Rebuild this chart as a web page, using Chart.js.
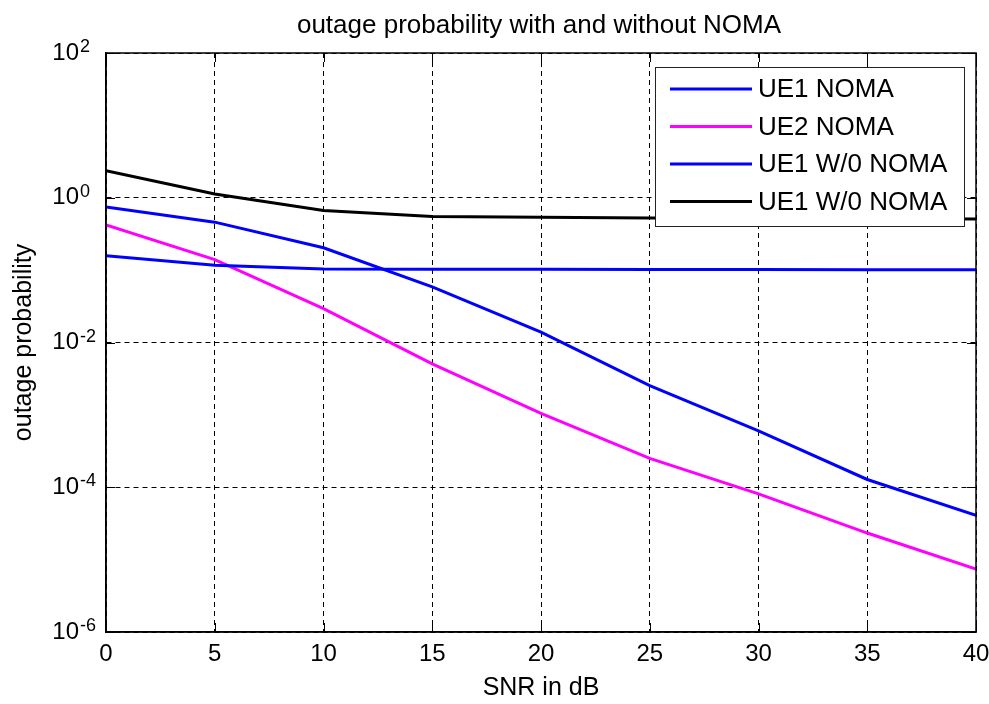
<!DOCTYPE html>
<html>
<head>
<meta charset="utf-8">
<title>outage probability with and without NOMA</title>
<script src="https://cdn.jsdelivr.net/npm/chart.js@4.4.1/dist/chart.umd.min.js"></script>
<style>
  html, body { margin: 0; padding: 0; background: #fff; }
  #wrap { width: 989px; height: 704px; }
</style>
</head>
<body>
<div id="wrap"><canvas id="outage-chart" width="989" height="704"></canvas></div>
<script>
// values, one point every 5 dB
const snrDb = [0, 5, 10, 15, 20, 25, 30, 35, 40];
const ue1Noma = [0.743, 0.46, 0.204, 0.0586, 0.0139, 0.00253, 0.0006, 0.000128, 0.000041];
const ue2Noma = [0.42, 0.14, 0.0294, 0.00506, 0.00105, 0.00025, 0.000081, 0.0000233, 0.0000074];
const ue1NoNomaBlue = [0.158, 0.117, 0.104, 0.103, 0.103, 0.102, 0.102, 0.101, 0.101];
const ue1NoNomaBlack = [2.37, 1.13, 0.667, 0.55, 0.536, 0.527, 0.52, 0.515, 0.51];

const seriesLabels = ['UE1 NOMA', 'UE2 NOMA', 'UE1 W/0 NOMA', 'UE1 W/0 NOMA'];
const seriesColors = ['#0000ff', '#ff00ff', '#0000ff', '#000000'];
const xTicks = [0, 5, 10, 15, 20, 25, 30, 35, 40];
const yTickExponents = [-6, -4, -2, 0, 2];

const chartTitle = 'outage probability with and without NOMA';
const FONT = "'Liberation Sans', Arial, sans-serif";

function toPoints(values) {
    return snrDb.map((x, i) => ({ x: x, y: values[i] }));
}

// matlab style frame, inner ticks, tick labels, title and legend
const matlabLook = {
    id: 'matlabLook',
    afterDraw(chart) {
        const ctx = chart.ctx;
        const area = chart.chartArea;
        const xs = chart.scales.x;
        const ys = chart.scales.y;
        ctx.save();

        // inner tick marks on all four sides
        ctx.strokeStyle = '#000';
        ctx.lineWidth = 1;
        ctx.setLineDash([]);
        ctx.beginPath();
        xTicks.forEach(v => {
            const px = Math.round(xs.getPixelForValue(v)) + 0.5;
            ctx.moveTo(px, area.bottom); ctx.lineTo(px, area.bottom - 9);
            ctx.moveTo(px, area.top); ctx.lineTo(px, area.top + 9);
        });
        yTickExponents.forEach(e => {
            const py = Math.round(ys.getPixelForValue(Math.pow(10, e))) + 0.5;
            ctx.moveTo(area.left, py); ctx.lineTo(area.left + 9, py);
            ctx.moveTo(area.right, py); ctx.lineTo(area.right - 9, py);
        });
        ctx.stroke();

        // box round the axes
        ctx.lineWidth = 1.5;
        ctx.strokeRect(area.left, area.top, area.right - area.left, area.bottom - area.top);

        // y tick labels: 10 with a raised exponent
        ctx.fillStyle = '#000';
        yTickExponents.forEach(e => {
            const py = ys.getPixelForValue(Math.pow(10, e));
            ctx.font = '24px ' + FONT;
            ctx.textAlign = 'right';
            ctx.textBaseline = 'middle';
            ctx.fillText('10', 79, py);
            ctx.font = '18px ' + FONT;
            ctx.textAlign = 'left';
            ctx.textBaseline = 'alphabetic';
            ctx.fillText(String(e), 80, py - 1);
        });

        // title
        ctx.font = '26px ' + FONT;
        ctx.textAlign = 'center';
        ctx.textBaseline = 'alphabetic';
        ctx.fillText(chartTitle, (area.left + area.right) / 2 - 2, 33);

        // legend box in the upper right corner
        const box = { x: 655, y: 67, w: 309, h: 159 };
        ctx.fillStyle = '#fff';
        ctx.fillRect(box.x, box.y, box.w, box.h);
        ctx.strokeStyle = '#222';
        ctx.lineWidth = 1;
        ctx.strokeRect(box.x + 0.5, box.y + 0.5, box.w, box.h);
        ctx.font = '26px ' + FONT;
        ctx.textAlign = 'left';
        ctx.textBaseline = 'middle';
        chart.data.datasets.forEach((ds, i) => {
            const rowY = box.y + 22 + i * 37.5;
            ctx.strokeStyle = ds.borderColor;
            ctx.lineWidth = 3;
            ctx.beginPath();
            ctx.moveTo(box.x + 15, rowY);
            ctx.lineTo(box.x + 97, rowY);
            ctx.stroke();
            ctx.fillStyle = '#000';
            ctx.fillText(ds.label, box.x + 103, rowY + 1);
        });

        ctx.restore();
    }
};

Chart.defaults.font.family = FONT;
Chart.defaults.color = '#000';

const ctx = document.getElementById('outage-chart').getContext('2d');
const datasets = [ue1Noma, ue2Noma, ue1NoNomaBlue, ue1NoNomaBlack].map((vals, i) => ({
    label: seriesLabels[i],
    data: toPoints(vals),
    borderColor: seriesColors[i],
    backgroundColor: seriesColors[i],
    borderWidth: 3,
    pointRadius: 0,
    tension: 0,
    fill: false,
    order: 4 - i
}));

const chart = new Chart(ctx, {
    type: 'line',
    data: { datasets: datasets },
    options: {
        responsive: false,
        animation: false,
        devicePixelRatio: 1,
        layout: { padding: { top: 53, right: 13, bottom: 0, left: 0 } },
        plugins: {
            legend: { display: false },
            title: { display: false },
            tooltip: { enabled: false }
        },
        scales: {
            x: {
                type: 'linear',
                min: 0,
                max: 40,
                afterBuildTicks: s => { s.ticks = xTicks.map(v => ({ value: v })); },
                afterFit: s => {
                    s.height = 72;
                    s.paddingLeft = 0;
                    s.paddingRight = 0;
                },
                ticks: { font: { size: 24 }, color: '#000', padding: 8, maxRotation: 0 },
                grid: { color: '#000', lineWidth: 1, drawTicks: false },
                border: { display: true, color: '#000', width: 1.5, dash: [5, 4] },
                title: { display: true, text: 'SNR in dB', font: { size: 25 }, color: '#000', padding: { top: 0, bottom: 1 } }
            },
            y: {
                type: 'logarithmic',
                min: 1e-6,
                max: 100,
                afterBuildTicks: s => { s.ticks = yTickExponents.map(e => ({ value: Math.pow(10, e) })); },
                afterFit: s => {
                    s.width = 106;
                    s.paddingTop = 0;
                    s.paddingBottom = 0;
                },
                ticks: { display: false },
                grid: { color: '#000', lineWidth: 1, drawTicks: false },
                border: { display: true, color: '#000', width: 1.5, dash: [5, 4] },
                title: { display: true, text: 'outage probability', font: { size: 25 }, color: '#000', padding: { top: 9, bottom: 0 } }
            }
        }
    },
    plugins: [matlabLook]
});
</script>
</body>
</html>
